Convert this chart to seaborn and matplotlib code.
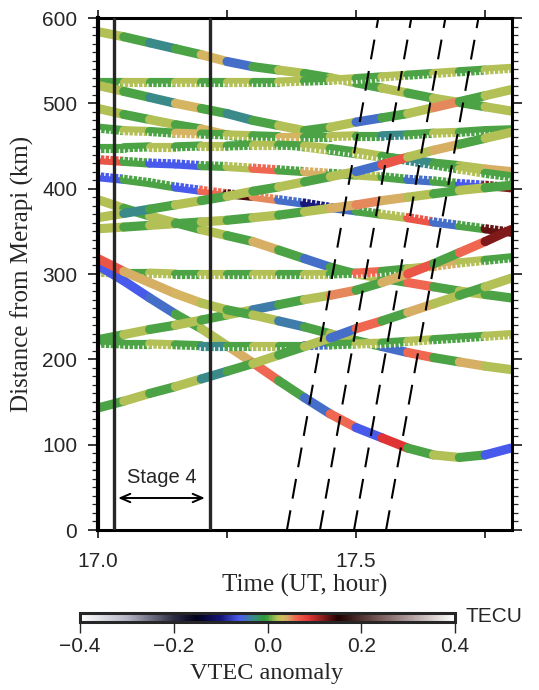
import numpy as np
import pandas as pd
import matplotlib
matplotlib.use("Agg")
import matplotlib.pyplot as plt
from matplotlib import patheffects
from matplotlib.collections import LineCollection
from matplotlib.colors import LinearSegmentedColormap, Normalize
import seaborn as sns

# ---------------------------------------------------------------------------
# Data: sub-ionospheric point tracks (distance from Merapi, km) and the
# VTEC anomaly (TECU) observed at each epoch (UT hour).
# ---------------------------------------------------------------------------
epochs = [17.00, 17.05, 17.10, 17.15, 17.20, 17.25, 17.30, 17.35, 17.40,
          17.45, 17.50, 17.55, 17.60, 17.65, 17.70, 17.75, 17.80]

dist_A = [584, 578, 571, 564, 557, 549, 543, 539, 535, 530, 524, 518, 512, 506, 501, 496, 491]
vtec_A = [0.02, 0.0, -0.03, 0.0, 0.035, -0.05, 0.0, 0.02, 0.0, 0.02, 0.0, 0.02, 0.0, 0.02, 0.0, 0.02, 0.0]

dist_B = [525, 525, 525, 525, 525, 525, 525, 525, 526, 527, 529, 531, 533, 535, 537, 539, 541]
vtec_B = [0.0, 0.02, 0.0, 0.02, 0.0, 0.02, 0.0, 0.02, 0.0, 0.02, 0.0, 0.02, 0.0, 0.02, 0.0, 0.02, 0.0]

dist_C = [521, 514, 507, 500, 494, 488, 480, 474, 468, 472, 478, 483, 488, 495, 502, 509, 516]
vtec_C = [0.02, 0.0, -0.03, 0.035, 0.0, -0.03, 0.0, 0.02, 0.0, 0.02, -0.05, 0.0, 0.02, 0.05, 0.0, 0.02, 0.0]

dist_E = [494, 487, 481, 475, 470, 463, 458, 453, 449, 445, 441, 437, 434, 430, 427, 423, 420]
vtec_E = [0.02, 0.0, 0.02, 0.0, 0.035, 0.0, 0.02, 0.0, 0.02, 0.0, 0.02, 0.0, -0.03, 0.0, 0.02, 0.04, 0.02]

dist_F = [471, 468, 467, 465, 464, 463, 462, 461, 461, 461, 462, 462, 463, 465, 466, 468, 469]
vtec_F = [0.0, 0.02, 0.0, 0.035, 0.0, 0.02, 0.0, 0.035, 0.0, 0.02, 0.0, -0.03, 0.0, 0.02, 0.0, 0.0, -0.05]

dist_G = [448, 448, 449, 449, 450, 450, 451, 451, 450, 447, 443, 438, 433, 428, 423, 418, 414]
vtec_G = [0.0, 0.0, 0.02, 0.0, 0.02, 0.0, 0.02, 0.0, 0.02, 0.0, 0.02, 0.0, -0.03, 0.0, 0.02, 0.0, 0.02]

dist_H = [434, 432, 430, 429, 427, 426, 424, 422, 420, 418, 416, 414, 411, 409, 406, 404, 401]
vtec_H = [0.07, 0.0, -0.06, -0.06, 0.0, 0.02, 0.06, 0.0, 0.04, 0.0, 0.02, 0.0, -0.05, 0.0, -0.06, 0.12, 0.14]

dist_I = [414, 411, 407, 402, 398, 394, 391, 387, 383, 378, 374, 370, 366, 361, 357, 353, 349]
vtec_I = [-0.06, 0.0, 0.0, -0.06, 0.06, 0.14, 0.05, -0.05, -0.1, -0.05, 0.0, 0.02, 0.07, -0.05, 0.0, 0.13, 0.14]

dist_J = [387, 377, 368, 360, 352, 345, 338, 328, 318, 308, 300, 295, 290, 285, 280, 276, 272]
vtec_J = [0.02, 0.0, 0.02, 0.0, 0.02, 0.0, 0.04, 0.0, -0.05, 0.0, 0.02, 0.0, 0.06, 0.0, 0.02, 0.0, 0.02]

dist_K = [366, 371, 376, 381, 386, 391, 397, 402, 408, 414, 420, 428, 437, 445, 452, 459, 466]
vtec_K = [0.02, -0.03, 0.0, 0.02, 0.0, 0.02, 0.0, 0.02, 0.0, 0.02, -0.05, 0.07, 0.02, 0.04, 0.0, 0.02, 0.0]

dist_L = [353, 355, 357, 359, 361, 363, 366, 369, 373, 377, 381, 386, 390, 394, 398, 401, 404]
vtec_L = [0.02, 0.0, 0.02, 0.0, 0.02, 0.0, 0.02, 0.0, 0.02, 0.04, 0.05, 0.04, 0.02, 0.0, 0.02, 0.0, 0.02]

dist_M = [302, 301, 301, 300, 300, 300, 300, 300, 300, 300, 301, 303, 306, 309, 313, 316, 319]
vtec_M = [0.02, 0.0, 0.02, 0.0, 0.02, 0.0, 0.02, 0.0, 0.02, 0.0, 0.06, 0.0, 0.02, 0.04, 0.02, 0.0, 0.02]

dist_N = [310, 292, 272, 253, 236, 216, 196, 175, 155, 136, 120, 108, 96, 88, 85, 88, 96]
vtec_N = [-0.06, -0.06, -0.05, 0.0, 0.02, 0.04, 0.06, 0.0, -0.05, 0.06, -0.06, 0.09, 0.0, 0.02, 0.0, -0.06, -0.12]

dist_P = [223, 229, 235, 240, 246, 252, 258, 264, 270, 275, 281, 290, 300, 312, 325, 338, 352]
vtec_P = [0.0, 0.02, 0.0, 0.02, 0.0, 0.02, -0.04, 0.0, 0.02, 0.05, 0.0, 0.04, 0.07, 0.0, 0.06, 0.12, 0.13]

dist_Q = [318, 303, 290, 277, 266, 258, 252, 245, 238, 230, 222, 215, 208, 202, 197, 192, 188]
vtec_Q = [0.07, 0.04, 0.04, 0.035, 0.02, 0.0, 0.02, -0.04, 0.0, 0.02, 0.0, -0.05, 0.06, 0.0, 0.04, 0.02, 0.02]

dist_R = [219, 218, 218, 217, 216, 216, 216, 216, 216, 217, 218, 219, 221, 223, 225, 227, 229]
vtec_R = [0.0, 0.0, 0.02, 0.0, -0.03, 0.0, 0.02, 0.0, -0.05, 0.0, 0.02, 0.0, 0.02, 0.0, 0.0, 0.02, 0.0]

dist_S = [143, 151, 160, 168, 177, 186, 195, 205, 215, 225, 236, 245, 255, 265, 275, 285, 295]
vtec_S = [0.0, 0.02, 0.0, 0.02, -0.03, 0.0, 0.02, 0.0, 0.02, -0.05, 0.06, 0.0, 0.04, 0.02, 0.0, 0.02, 0.04]

# Each track: name, distances, anomalies, marker orientation ("v", "^" or "")
tracks = [
    ("A", dist_A, vtec_A, ""), ("B", dist_B, vtec_B, "v"),
    ("C", dist_C, vtec_C, ""), ("E", dist_E, vtec_E, ""),
    ("F", dist_F, vtec_F, "v"), ("G", dist_G, vtec_G, "v"),
    ("H", dist_H, vtec_H, "^"), ("I", dist_I, vtec_I, "^"),
    ("J", dist_J, vtec_J, ""), ("K", dist_K, vtec_K, ""),
    ("L", dist_L, vtec_L, ""), ("M", dist_M, vtec_M, "v"),
    ("N", dist_N, vtec_N, ""), ("P", dist_P, vtec_P, ""),
    ("Q", dist_Q, vtec_Q, ""), ("R", dist_R, vtec_R, "v"),
    ("S", dist_S, vtec_S, ""),
]

# Travelling disturbance fronts (start / end of each dashed line)
front_start_time = [17.366, 17.430, 17.496, 17.558]
front_end_time = [17.543, 17.607, 17.673, 17.737]
front_dist = [0, 600]

# Stage 4 boundaries
stage_bounds = [17.031, 17.217]

x_ticks = [17.0, 17.25, 17.5, 17.75]
x_ticklabels = ["17.0", "", "17.5", ""]
y_ticks = [0, 100, 200, 300, 400, 500, 600]
cbar_ticks = [-0.4, -0.2, 0.0, 0.2, 0.4]
cbar_ticklabels = ["\u22120.4", "\u22120.2", "0.0", "0.2", "0.4"]

# ---------------------------------------------------------------------------
# Style
# ---------------------------------------------------------------------------
sns.set_style("ticks")
plt.rcParams["font.family"] = ["Liberation Sans", "DejaVu Sans"]
serif = ["Liberation Serif", "DejaVu Serif"]

cmap = LinearSegmentedColormap.from_list("vtec", [
    (0.000, "#ffffff"),
    (0.125, "#b4b4c4"),
    (0.250, "#2c2c44"),
    (0.310, "#00001c"),
    (0.375, "#141478"),
    (0.425, "#4a5cee"),
    (0.462, "#3a8a8c"),
    (0.490, "#2f9a3a"),
    (0.500, "#42a044"),
    (0.525, "#b2c056"),
    (0.538, "#d0c060"),
    (0.556, "#dca466"),
    (0.575, "#f06852"),
    (0.612, "#e03434"),
    (0.690, "#200000"),
    (0.810, "#806262"),
    (1.000, "#ffffff"),
])
norm = Normalize(-0.4, 0.4)

BAND = 6.6  # track width in points

W, H = 539, 690
fig = plt.figure(figsize=(W / 100, H / 100), dpi=100)
ax = fig.add_axes([98 / W, 1 - 530 / H, 414 / W, 512 / H])

# Tracks: coloured bands, one segment per epoch interval; later tracks are
# stacked over earlier ones
for k, (name, dist, vtec, mk) in enumerate(tracks):
    z = 2 + 0.02 * k
    pts = np.column_stack([epochs, dist])
    segs = np.stack([pts[:-1], pts[1:]], axis=1)
    lc = LineCollection(segs, colors=cmap(norm(np.array(vtec[:-1]))),
                        linewidths=BAND, capstyle="round", zorder=z)
    ax.add_collection(lc)
    if mk:
        # notches between the triangular markers along one edge
        side = -1 if mk == "v" else 1
        ax.plot(epochs, dist, color="white", lw=0, zorder=z + 0.01,
                path_effects=[patheffects.TickedStroke(
                    offset=(0, side * (BAND / 2 + 0.2)), spacing=3.4,
                    angle=-90 * side, length=0.6, linewidth=1.0,
                    foreground="white")])

# Dashed fronts
fronts = pd.DataFrame({
    "front": np.repeat(np.arange(len(front_start_time)), 2),
    "time": np.ravel(np.column_stack([front_start_time, front_end_time])),
    "dist": front_dist * len(front_start_time),
})
sns.lineplot(data=fronts, x="time", y="dist", units="front", estimator=None,
             sort=False, color="black", lw=1.5, ls=(0, (9.6, 5.7)), ax=ax,
             zorder=3)

# Stage boundaries
for tb in stage_bounds:
    ax.axvline(tb, color="#262626", lw=2.4, zorder=4)

ax.annotate("", xy=(17.039, 37.5), xytext=(17.207, 37.5),
            arrowprops=dict(arrowstyle="<->,head_length=0.7,head_width=0.3",
                            lw=1.4, color="black", shrinkA=0, shrinkB=0))
ax.text(17.124, 62, "Stage 4", ha="center", va="center", fontsize=14.5)

ax.set_xlim(17.0, 17.802)
ax.set_ylim(0, 600)
ax.set_xticks(x_ticks)
ax.set_xticklabels(x_ticklabels)
ax.set_yticks(y_ticks)
ax.set_yticks(np.arange(0, 601, 10), minor=True)
ax.tick_params(axis="both", which="major", direction="out", length=7,
               width=1.1, labelsize=15, color="black")
ax.tick_params(axis="y", which="major", pad=8, right=True)
ax.tick_params(axis="y", which="minor", direction="out", length=4,
               width=0.9, right=True)
ax.tick_params(axis="x", which="major", pad=10, top=True, length=6)
for side in ["left", "right", "top", "bottom"]:
    ax.spines[side].set_linewidth(2.2)
    ax.spines[side].set_color("black")
ax.spines["left"].set_linewidth(3.0)

ax.set_xlabel("Time (UT, hour)", fontsize=18, family=serif, labelpad=2)
ax.set_ylabel("Distance from Merapi (km)", fontsize=18, family=serif,
              labelpad=6)

# Colour bar
cax = fig.add_axes([80 / W, 1 - 622 / H, 375 / W, 9 / H])
sm = plt.cm.ScalarMappable(norm=norm, cmap=cmap)
cb = fig.colorbar(sm, cax=cax, orientation="horizontal", ticks=cbar_ticks)
cb.outline.set_linewidth(2.2)
cax.set_xticklabels(cbar_ticklabels)
cax.tick_params(direction="out", length=8, width=1.0, labelsize=15, pad=3)
fig.text(465 / W, 1 - 617 / H, "TECU", ha="left", va="center", fontsize=15)
fig.text(267 / W, 1 - 673 / H, "VTEC anomaly", ha="center", va="center",
         fontsize=17.5, family=serif)

fig.savefig("out.png", dpi=100)
